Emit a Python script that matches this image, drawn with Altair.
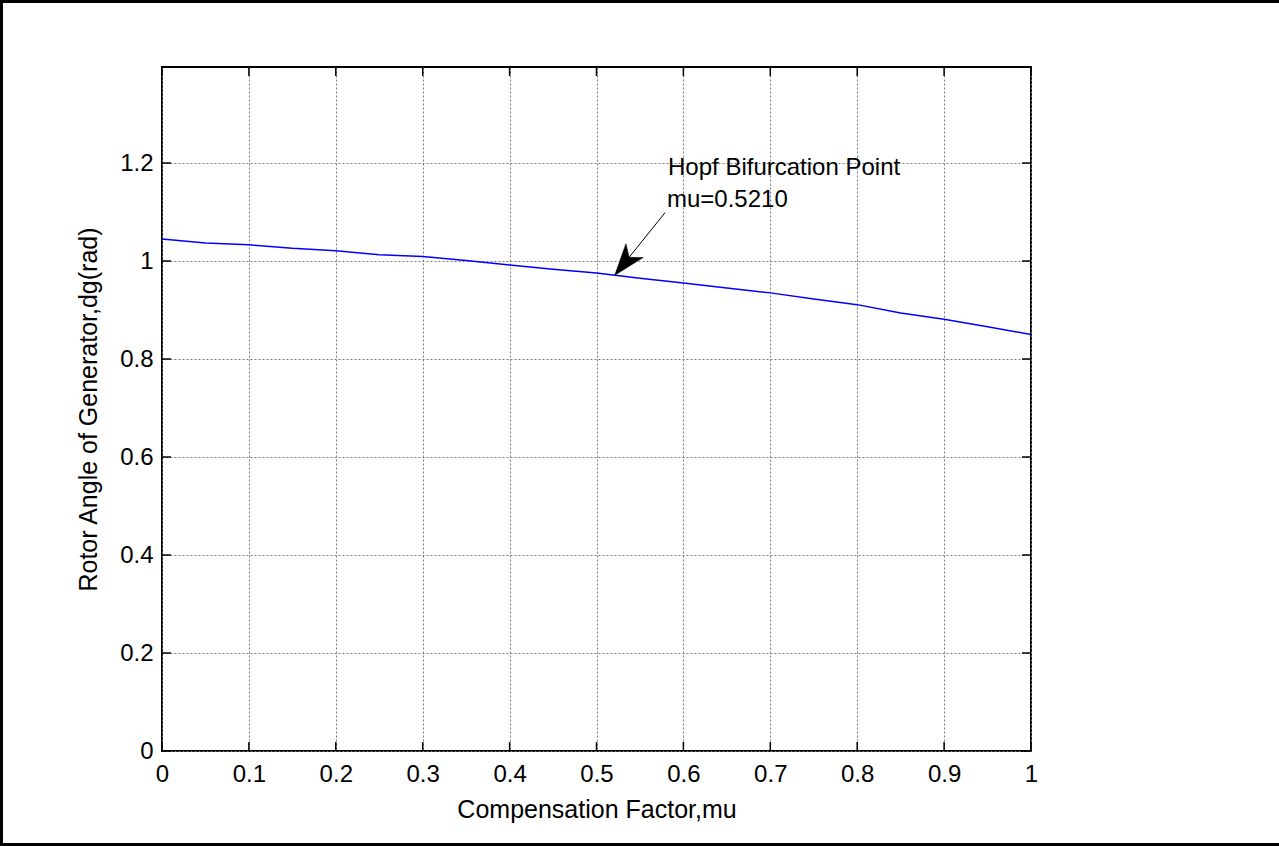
import math
import altair as alt
import pandas as pd

# Rotor angle of the generator versus series compensation factor
mu = [0.00, 0.05, 0.10, 0.15, 0.20, 0.25, 0.30, 0.35, 0.40, 0.45, 0.50,
      0.55, 0.60, 0.65, 0.70, 0.75, 0.80, 0.85, 0.90, 0.95, 1.00]
dg = [1.045, 1.037, 1.033, 1.026, 1.021, 1.013, 1.009, 1.001, 0.992, 0.983, 0.9755,
      0.965, 0.955, 0.945, 0.935, 0.9225, 0.911, 0.894, 0.881, 0.866, 0.850]

x_ticks = [0, 0.1, 0.2, 0.3, 0.4, 0.5, 0.6, 0.7, 0.8, 0.9, 1.0]
y_ticks = [0, 0.2, 0.4, 0.6, 0.8, 1.0, 1.2]
x_domain = [0, 1]
y_domain = [0, 1.396]

# Annotation: Hopf bifurcation point
hopf_mu = 0.521
hopf_dg = 0.971
arrow_tail = (0.579, 1.099)
hopf_title = "Hopf Bifurcation Point"
hopf_title_pos = (0.5823, 1.1908)
hopf_label = "mu=0.5210"
hopf_label_pos = (0.5811, 1.1245)

W, H = 869, 684
FONT = "Liberation Sans"
FS = 24
TITLE_FS = 25

xs = alt.Scale(domain=x_domain, nice=False, zero=False)
ys = alt.Scale(domain=y_domain, nice=False, zero=False)

curve = pd.DataFrame({"mu": mu, "dg": dg})

label_expr = "datum.value == 0 ? '0' : datum.value == 1 ? '1' : format(datum.value, '.1f')"

line = alt.Chart(curve).mark_line(color="#0000ff", strokeWidth=1.5).encode(
    x=alt.X("mu:Q", scale=xs,
            axis=alt.Axis(values=x_ticks, title="Compensation Factor,mu", labelExpr=label_expr)),
    y=alt.Y("dg:Q", scale=ys,
            axis=alt.Axis(values=y_ticks, title="Rotor Angle of Generator,dg(rad)", labelExpr=label_expr)),
)

# Inward tick marks on all four sides of the box
TL = 9
xt = pd.DataFrame({"v": x_ticks})
yt = pd.DataFrame({"v": y_ticks})
tick_style = dict(color="black", strokeWidth=1.5)
tick_bottom = alt.Chart(xt).mark_rule(**tick_style).encode(
    x=alt.X("v:Q", scale=xs), y=alt.value(H), y2=alt.value(H - TL))
tick_top = alt.Chart(xt).mark_rule(**tick_style).encode(
    x=alt.X("v:Q", scale=xs), y=alt.value(0), y2=alt.value(TL))
tick_left = alt.Chart(yt).mark_rule(**tick_style).encode(
    y=alt.Y("v:Q", scale=ys), x=alt.value(0), x2=alt.value(TL))
tick_right = alt.Chart(yt).mark_rule(**tick_style).encode(
    y=alt.Y("v:Q", scale=ys), x=alt.value(W), x2=alt.value(W - TL))

labels = pd.DataFrame({
    "x": [hopf_title_pos[0], hopf_label_pos[0]],
    "y": [hopf_title_pos[1], hopf_label_pos[1]],
    "t": [hopf_title, hopf_label],
})
texts = alt.Chart(labels).mark_text(
    align="left", baseline="middle", font=FONT, fontSize=FS, color="black"
).encode(x=alt.X("x:Q", scale=xs), y=alt.Y("y:Q", scale=ys), text="t:N")

shaft_df = pd.DataFrame({"x": [arrow_tail[0]], "y": [arrow_tail[1]],
                         "x2": [hopf_mu], "y2": [hopf_dg]})
shaft = alt.Chart(shaft_df).mark_rule(color="black", strokeWidth=1).encode(
    x=alt.X("x:Q", scale=xs), y=alt.Y("y:Q", scale=ys), x2="x2:Q", y2="y2:Q")

# Arrowhead direction in screen space (tail -> tip)
dx_px = (hopf_mu - arrow_tail[0]) / (x_domain[1] - x_domain[0]) * W
dy_px = -(hopf_dg - arrow_tail[1]) / (y_domain[1] - y_domain[0]) * H
angle = math.degrees(math.atan2(dx_px, -dy_px)) % 360

head_df = pd.DataFrame({"x": [hopf_mu], "y": [hopf_dg]})
head = alt.Chart(head_df).mark_point(
    shape="M0,0 L-0.7,2 L0,1.45 L0.7,2 Z", filled=True, size=1000, angle=angle,
    fill="black", stroke="black", strokeWidth=0.5, opacity=1,
).encode(x=alt.X("x:Q", scale=xs), y=alt.Y("y:Q", scale=ys))

# Figure frame: left, top and bottom edges
one = pd.DataFrame({"a": [0]})
frame_style = dict(color="black", strokeWidth=3)
frame_left = alt.Chart(one).mark_rule(**frame_style).encode(
    x=alt.value(-160.5), y=alt.value(-67), y2=alt.value(779))
frame_top = alt.Chart(one).mark_rule(**frame_style).encode(
    x=alt.value(-162), x2=alt.value(1117), y=alt.value(-65.5))
frame_bottom = alt.Chart(one).mark_rule(**frame_style).encode(
    x=alt.value(-162), x2=alt.value(1117), y=alt.value(777.5))

chart = alt.layer(
    line, tick_bottom, tick_top, tick_left, tick_right, shaft, head, texts,
    frame_left, frame_top, frame_bottom
).properties(
    width=W, height=H,
    autosize=alt.AutoSizeParams(type="none"),
    padding={"left": 162, "top": 67, "right": 248, "bottom": 95},
    background="white",
).configure_view(
    stroke="black", strokeWidth=2
).configure_axis(
    domain=False, ticks=False,
    grid=True, gridColor="#7a7a7a", gridDash=[2, 2], gridWidth=1, gridOpacity=1,
    labelFont=FONT, labelFontSize=FS, labelColor="black",
    titleFont=FONT, titleFontSize=TITLE_FS, titleFontWeight="normal", titleColor="black",
).configure_axisX(
    labelPadding=11, titlePadding=11, labelFlush=False,
).configure_axisY(
    labelPadding=9, titlePadding=18, labelFlush=False,
)

chart.save("out.html", embed_options={"renderer": "svg", "actions": False})
